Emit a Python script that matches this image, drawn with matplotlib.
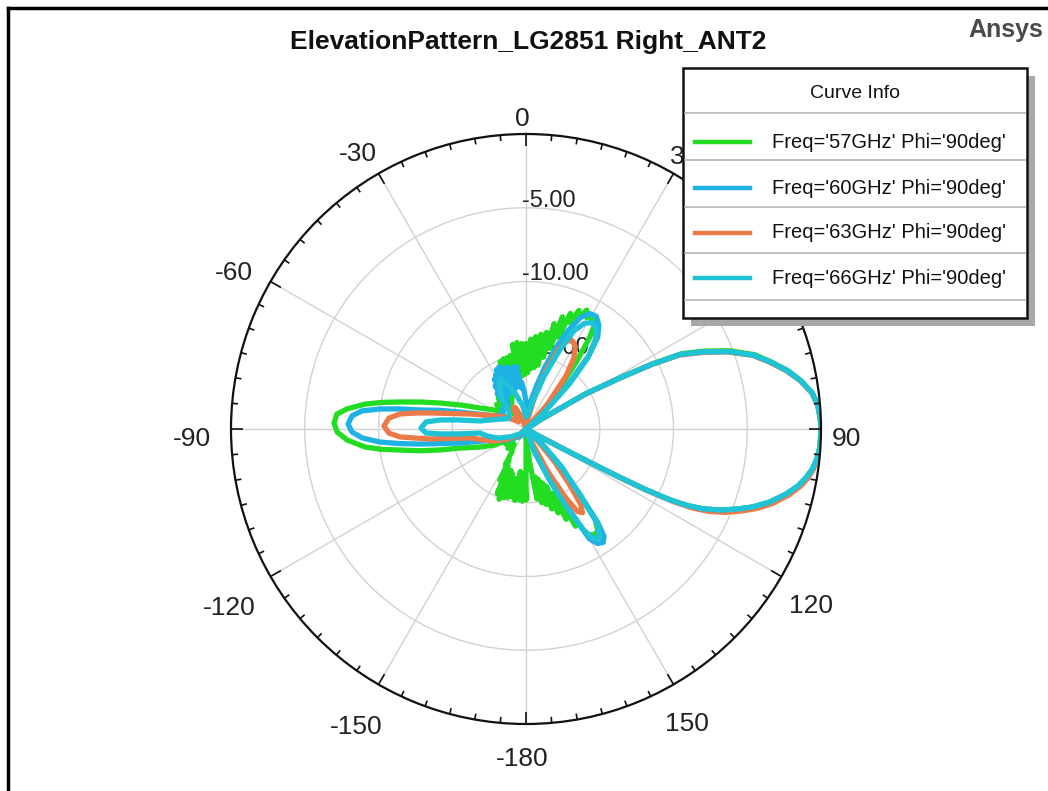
import numpy as np
import matplotlib
matplotlib.use("Agg")
import matplotlib.pyplot as plt
from matplotlib.patches import Rectangle
from matplotlib.lines import Line2D
from matplotlib.transforms import ScaledTranslation

# ---------------- data: elevation cut, (theta deg, gain dB) ----------------
pattern_57 = [
    (-180, -15.2), (-178.5, -17.0), (-177, -15.1), (-175.5, -16.9), (-174, -15.2), (-172.5, -17.1),
    (-171, -15.1), (-169.5, -16.6), (-168, -15.3), (-166.5, -16.5), (-165, -15.2), (-163.5, -16.8),
    (-162, -15.1), (-160.5, -17.0), (-159, -14.9), (-157.5, -16.9), (-156, -15.2), (-154.5, -17.2),
    (-153, -16.1), (-151.5, -17.6), (-150, -17.2), (-148, -18.2), (-146, -18.3), (-142, -18.7),
    (-137, -18.2), (-132, -18.8), (-127, -18.3), (-122, -18.6), (-117, -17.6), (-111.4, -16.65),
    (-106, -15.3), (-103.7, -14.0), (-101.5, -12.6), (-99.5, -11.34), (-98, -10.1), (-96.4, -9.02),
    (-93.5, -7.84), (-90.9, -7.19), (-88.2, -6.98), (-85.5, -7.14), (-83.6, -7.79), (-81.2, -8.96),
    (-79.5, -10.1), (-77.9, -11.26), (-75.5, -12.7), (-73.2, -13.91), (-69.5, -15.4),
    (-65.5, -16.57), (-60, -17.4), (-55, -17.9), (-50, -17.4), (-46, -17.9), (-42, -17.2),
    (-40.5, -18.6), (-39, -16.9), (-37.5, -18.8), (-36, -16.7), (-34.5, -18.4), (-33, -16.5),
    (-31.5, -18.3), (-30, -16.2), (-28.5, -18.0), (-27, -15.9), (-25.5, -17.8), (-24, -15.6),
    (-22.5, -17.6), (-21, -15.1), (-19.5, -17.4), (-18, -15.0), (-16.5, -17.3), (-15, -15.0),
    (-13.5, -17.1), (-12, -14.9), (-10.5, -16.8), (-9, -14.2), (-7.5, -16.6), (-6, -14.1),
    (-4.5, -16.4), (-3, -14.2), (-1.5, -16.3), (0, -14.2), (1.5, -16.2), (3, -13.9), (4.5, -15.9),
    (6, -13.7), (7.5, -15.8), (9, -13.5), (10.5, -15.6), (12, -13.3), (13.5, -15.0), (15, -12.6),
    (16.5, -14.3), (18, -12.0), (19.5, -13.4), (21, -11.6), (22.5, -12.2), (24, -11.2),
    (25.5, -11.7), (27, -10.95), (28.5, -11.4), (30, -11.1), (31.5, -11.5), (33, -11.3),
    (35, -12.6), (37, -14.4), (39, -16.2), (42, -18.0), (46, -19.5), (50, -20), (55.5, -20),
    (57.3, -18.7), (59.5, -15.2), (61.5, -12.6), (62.8, -10.3), (64.2, -8.25), (66.5, -6.75),
    (69, -5.2), (72, -3.7), (74.6, -2.8), (77.3, -1.85), (80, -1.08), (82.8, -0.45),
    (85.3, -0.15), (88, -0.03), (90, 0.0), (92, -0.02), (94, -0.06), (96, -0.18), (98, -0.4),
    (100, -0.75), (101.8, -1.15), (104, -1.8), (106.7, -2.75), (109, -3.75), (110.8, -4.7),
    (112.7, -5.75), (114.3, -6.85), (115.4, -7.9), (116.2, -9.1), (116.9, -11.0), (117.3, -13.0),
    (117.6, -15.0), (118, -17.0), (118.8, -19.0), (121, -20), (128, -20), (133, -18.6),
    (137, -16.5), (140.5, -14.3), (142.5, -12.3), (145, -11.5), (147.5, -11.5), (150, -11.7),
    (151.5, -13.3), (153, -12.6), (154.5, -14.6), (156, -13.3), (157.5, -15.3), (159, -13.9),
    (160.5, -15.9), (162, -14.3), (163.5, -16.2), (165, -14.7), (166.5, -16.5), (168, -14.9),
    (169.5, -16.7), (171, -15.2), (172.5, -17.0), (174, -17.8), (177, -19.2), (179, -19.6),
    (180, -15.2),
]

pattern_60 = [
    (-180, -20), (-165, -20), (-152, -19.6), (-140, -19.3), (-128, -19.0), (-118, -18.3),
    (-109.5, -17.77), (-102, -15.42), (-98.1, -12.74), (-96.5, -11.3), (-95.1, -10.06),
    (-93.1, -8.87), (-91, -8.2), (-88.4, -7.93), (-85.7, -8.17), (-83.7, -8.81), (-82.2, -10.0),
    (-81, -11.3), (-79.8, -12.7), (-77.8, -14.0), (-75.6, -15.38), (-67.2, -17.7), (-58, -18.2),
    (-50, -17.9), (-44, -18.1), (-40, -17.6), (-38.5, -16.9), (-37, -18.0), (-35.5, -16.4),
    (-34, -17.8), (-32.5, -16.0), (-31, -17.6), (-29.5, -15.8), (-28, -17.4), (-26.5, -15.5),
    (-25, -17.3), (-23.5, -15.4), (-22, -17.2), (-20.5, -15.6), (-19, -17.3), (-17.5, -15.6),
    (-16, -17.2), (-14.5, -15.8), (-13, -17.1), (-11.5, -15.7), (-10, -17.0), (-8.5, -15.75),
    (-7, -17.2), (-5.5, -16.8), (-3, -17.4), (0, -18.1), (4, -18.6), (8, -18.5), (11, -17.8),
    (14, -16.9), (17, -15.6), (20, -14.2), (23, -12.8), (26, -11.6), (29, -11.05), (32, -11.0),
    (35, -11.4), (38, -12.1), (40.5, -13.4), (43, -15.6), (46, -17.8), (50, -19.6), (55.5, -20),
    (57.5, -18.6), (59.5, -15.3), (61.5, -12.7), (62.8, -10.4), (64.2, -8.4), (66.5, -6.9),
    (69, -5.35), (72, -3.8), (74.6, -2.85), (77.3, -1.9), (80, -1.1), (82.8, -0.45),
    (85.3, -0.15), (88, -0.03), (90, 0.0), (92, -0.02), (94, -0.06), (96, -0.18), (98, -0.4),
    (100, -0.75), (101.8, -1.15), (104, -1.8), (106.7, -2.75), (109, -3.75), (110.8, -4.7),
    (112.7, -5.75), (114.3, -6.85), (115.4, -7.9), (116.2, -9.1), (116.9, -11.0), (117.3, -13.0),
    (117.6, -15.0), (118, -17.0), (118.8, -19.0), (121, -20), (128, -20), (133, -18.5),
    (136.6, -16.6), (140.7, -14.2), (142.5, -12.0), (144, -11.0), (145.7, -10.7), (148, -10.85),
    (150, -11.4), (151.5, -13.4), (153, -15.0), (155, -16.3), (160, -18.4), (166, -20), (180, -20),
]

pattern_63 = [
    (-180, -20), (-150, -20), (-130, -19.3), (-118, -18.5), (-110, -17.6), (-99.1, -16.16),
    (-95.9, -13.46), (-94.6, -12.4), (-93.6, -11.44), (-91.7, -10.7), (-88.8, -10.37),
    (-85.4, -10.68), (-83.2, -11.4), (-81.8, -12.4), (-80.5, -13.4), (-75, -16.07), (-68, -17.6),
    (-58, -18.5), (-45, -19.3), (-36, -18.9), (-30, -18.3), (-26, -18.4), (-21, -19.2),
    (-12, -20), (2, -20), (10, -19.4), (15, -17.8), (19, -15.8), (22, -14.2), (25, -13.4),
    (28, -13.25), (31, -13.5), (34, -14.2), (37, -15.5), (41, -17.8), (46, -20), (55.5, -20),
    (57.5, -18.7), (59.5, -15.4), (61.5, -12.8), (62.8, -10.5), (64.2, -8.5), (66.5, -7.0),
    (69, -5.4), (72, -3.85), (74.6, -2.9), (77.3, -1.95), (80, -1.12), (82.8, -0.47),
    (85.3, -0.15), (88, -0.03), (90, 0.0), (92, -0.02), (94, -0.05), (96, -0.15), (98, -0.33),
    (100, -0.62), (101.8, -1.0), (104, -1.6), (106.7, -2.5), (109, -3.45), (110.8, -4.35),
    (112.7, -5.35), (114.3, -6.45), (115.4, -7.5), (116.2, -8.8), (116.9, -10.7), (117.3, -12.8),
    (117.6, -14.9), (118, -16.9), (118.8, -19.0), (121, -20), (130, -20), (135, -19.0),
    (139, -17.0), (142, -15.2), (144, -13.7), (146, -13.15), (148, -13.4), (150, -14.6),
    (153, -16.8), (157, -19.0), (162, -20), (180, -20),
]

pattern_66 = [
    (-180, -20), (-150, -20), (-130, -19.5), (-118, -18.9), (-108, -18.0), (-100, -17.3),
    (-95, -16.87), (-94.2, -15.5), (-93.3, -14.16), (-92.3, -13.21), (-89.5, -12.88),
    (-86, -13.2), (-84, -14.14), (-82.5, -15.3), (-80.1, -16.83), (-72, -17.9), (-60, -18.6),
    (-45, -18.4), (-38, -17.3), (-32, -16.6), (-27, -16.2), (-22, -16.9), (-16, -17.6),
    (-8, -18.4), (0, -19.2), (8, -19.0), (14, -18.0), (19, -16.2), (23, -14.2), (26, -12.6),
    (29, -11.8), (32, -11.5), (35, -11.7), (38, -12.4), (41, -13.6), (44, -15.8), (48, -18.6),
    (52, -20), (55.5, -20), (57.5, -18.6), (59.5, -15.3), (61.5, -12.7), (62.8, -10.4),
    (64.2, -8.4), (66.5, -6.9), (69, -5.35), (72, -3.8), (74.6, -2.85), (77.3, -1.9),
    (80, -1.1), (82.8, -0.45), (85.3, -0.15), (88, -0.03), (90, 0.0), (92, -0.02), (94, -0.06),
    (96, -0.18), (98, -0.4), (100, -0.75), (101.8, -1.15), (104, -1.8), (106.7, -2.75),
    (109, -3.75), (110.8, -4.7), (112.7, -5.75), (114.3, -6.85), (115.4, -7.9), (116.2, -9.1),
    (116.9, -11.0), (117.3, -13.0), (117.6, -15.0), (118, -17.0), (118.8, -19.0), (121, -20),
    (129, -20), (134, -18.3), (137.5, -16.3), (141, -14.0), (143, -11.9), (146, -11.1),
    (148.5, -11.3), (150.5, -12.2), (152.5, -14.0), (155.5, -16.3), (160, -18.5), (166, -20),
    (180, -20),
]

series_labels = ["Freq='57GHz' Phi='90deg'", "Freq='60GHz' Phi='90deg'",
                 "Freq='63GHz' Phi='90deg'", "Freq='66GHz' Phi='90deg'"]
series_colors = ["#22dd22", "#1eb2e4", "#ec7a48", "#1fc3d6"]

r_ticks = [-15, -10, -5]
r_tick_labels = ["-15.00", "-10.00", "-5.00"]
theta_tick_deg = [0, 30, 90, 120, 150, 180, 210, 240, 270, 300, 330]
theta_tick_labels = ["0", "30", "90", "120", "150", "-180", "-150", "-120", "-90", "-60", "-30"]

TITLE = "ElevationPattern_LG2851 Right_ANT2"
R_MIN, R_MAX = -20, 0

# ---------------- figure ----------------
W, H = 1048, 791
fig = plt.figure(figsize=(W / 100, H / 100), dpi=100)
fig.patch.set_facecolor("white")

SANS = ["Liberation Sans", "DejaVu Sans"]


def fx(x):
    return x / W


def fy(y):
    return 1 - y / H


CX, CY, RAD = 526, 429, 295
ax = fig.add_axes([fx(CX - RAD), fy(CY + RAD), 2 * RAD / W, 2 * RAD / H], projection="polar")
ax.set_theta_zero_location("N")
ax.set_theta_direction(-1)
ax.set_ylim(R_MIN, R_MAX)
ax.set_facecolor("white")
ax.set_axisbelow(True)

ax.set_xticks(np.radians(np.arange(0, 360, 30)))
ax.set_xticklabels([])
ax.tick_params(axis="x", length=0)
ax.xaxis.grid(True, color="#d2d2d2", lw=1.0)

ax.set_yticks(r_ticks)
ax.set_yticklabels([])
ax.tick_params(axis="y", length=0)
ax.yaxis.grid(True, color="#d2d2d2", lw=1.0)
ax.spines["polar"].set_color("#111111")
ax.spines["polar"].set_linewidth(1.6)

# rim ticks pointing inward: long every 30 deg, short every 5 deg
px_per_db = RAD / (R_MAX - R_MIN)
for a in range(0, 360, 5):
    tick_len = (12 if a % 30 == 0 else 6) / px_per_db
    ax.plot([np.radians(a)] * 2, [R_MAX - tick_len, R_MAX], color="#111111", lw=1.2,
            zorder=3, clip_on=False, solid_capstyle="butt")

# radial value labels, drawn beneath the traces
lab_off = ScaledTranslation(-0.04, 0.07, fig.dpi_scale_trans)
for v, s in zip(r_ticks, r_tick_labels):
    ax.text(0, v, s, transform=ax.transData + lab_off, ha="left", va="center",
            fontsize=17, family=SANS, color="#222222", zorder=1)

# traces
for pts, col in zip([pattern_57, pattern_60, pattern_63, pattern_66], series_colors):
    th, db = np.array(pts).T
    ax.plot(np.radians(th), np.clip(db, R_MIN, R_MAX), color=col, lw=3.8,
            solid_joinstyle="round", solid_capstyle="round", zorder=2)

# angle labels around the rim
LX0, LY0, LPAD = 522, 439, 310
for a, s in zip(theta_tick_deg, theta_tick_labels):
    t = np.radians(a)
    w = 14.5 * sum(c.isdigit() for c in s) + 11 * s.count("-")
    r = LPAD + 0.5 * w * abs(np.sin(t)) + 10 * abs(np.cos(t))
    fig.text(fx(LX0 + r * np.sin(t)), fy(LY0 - r * np.cos(t)), s, ha="center", va="center",
             fontsize=19, family=SANS, color="#222222")

# title and brand
fig.text(fx(528), fy(42), TITLE, ha="center", va="center", fontsize=19,
         fontweight="bold", family=SANS, color="#111111")
fig.text(fx(1043), fy(30), "Ansys", ha="right", va="center", fontsize=18,
         fontweight="bold", family=SANS, color="#4a4a4a")

# outer frame (top and left edges)
fig.add_artist(Line2D([fx(8), fx(8)], [fy(8), fy(H + 5)], color="black", lw=2.5))
fig.add_artist(Line2D([fx(8), fx(W + 5)], [fy(8), fy(8)], color="black", lw=2.5))

# legend panel
L0, T0, L1, T1 = 683, 68, 1027, 318
fig.add_artist(Rectangle((fx(L0 + 8), fy(T1 + 8)), (L1 - L0) / W, (T1 - T0) / H,
                         facecolor="#a8a8a8", edgecolor="none", zorder=5))
fig.add_artist(Rectangle((fx(L0), fy(T1)), (L1 - L0) / W, (T1 - T0) / H,
                         facecolor="white", edgecolor="#111111", lw=1.8, zorder=6))
fig.text(fx(855), fy(94), "Curve Info", ha="center", va="center", fontsize=14,
         family=SANS, color="#111111", zorder=7)
for ysep in [113, 160, 207, 253, 300]:
    fig.add_artist(Line2D([fx(L0 + 2), fx(L1 - 2)], [fy(ysep), fy(ysep)], color="#b4b4b4",
                          lw=1.2, zorder=7))
for yrow, lab, col in zip([142, 188, 233, 278], series_labels, series_colors):
    fig.add_artist(Line2D([fx(695), fx(750)], [fy(yrow), fy(yrow)], color=col, lw=3.2,
                          zorder=7))
    fig.text(fx(772), fy(yrow), lab, ha="left", va="center", fontsize=14.5, family=SANS,
             color="#111111", zorder=7)

fig.savefig("out.png", dpi=100, facecolor="white")
